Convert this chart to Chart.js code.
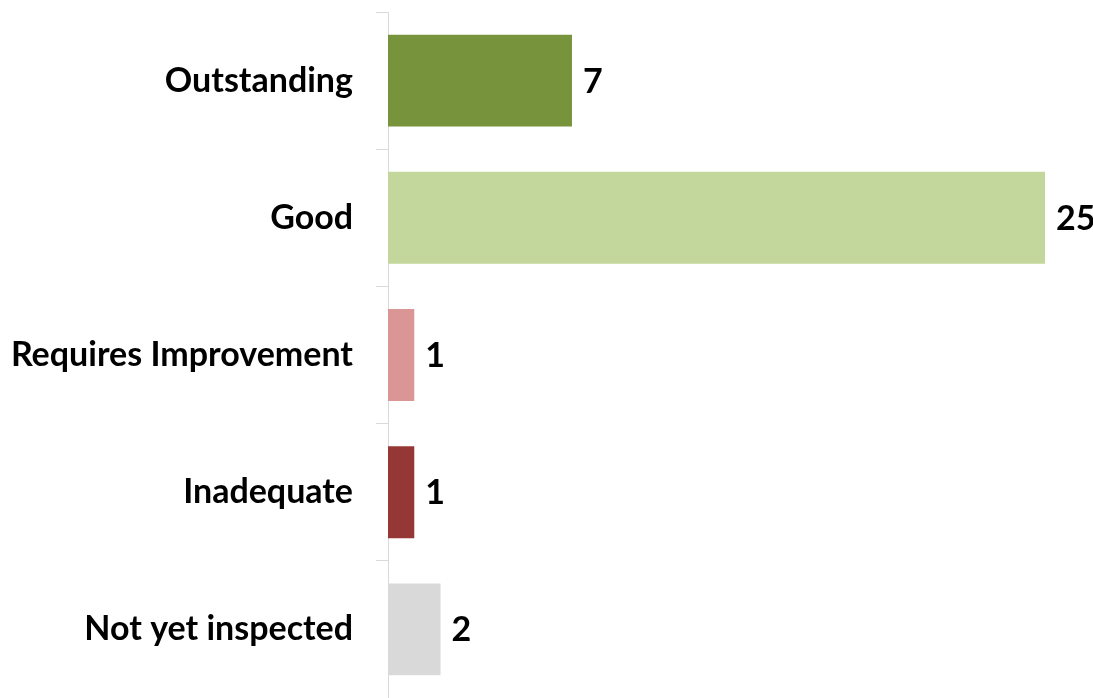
<!DOCTYPE html>
<html lang="en">
  <head>
    <meta charset="UTF-8" />
    <title>Inspection outcomes</title>
    <script src="https://cdn.jsdelivr.net/npm/chart.js"></script>
    <style>
      html, body { margin: 0; padding: 0; background: #fff; }
      .graphDiv { width: 1093px; height: 698px; }
    </style>
  </head>
  <body>
    <div class="graphDiv">
      <canvas id="myChart"></canvas>
    </div>
    <script>
  const categories = ["Outstanding", "Good", "Requires Improvement", "Inadequate", "Not yet inspected"];
  const counts = [7, 25, 1, 1, 2];
  const barColours = ["#77933C", "#C3D69B", "#D99694", "#953735", "#D9D9D9"];

  const labelFont = { family: "Lato, 'Open Sans', sans-serif", size: 34, weight: "bold" };

  // write each count just past the end of its bar
  const valueLabels = {
    id: "valueLabels",
    afterDatasetsDraw(chart) {
      const ctx = chart.ctx;
      const meta = chart.getDatasetMeta(0);
      ctx.save();
      ctx.font = `bold ${labelFont.size}px ${labelFont.family}`;
      ctx.fillStyle = "#000";
      ctx.textAlign = "left";
      ctx.textBaseline = "middle";
      meta.data.forEach((bar, i) => {
        ctx.fillText(String(counts[i]), bar.x + 11, bar.y + 1);
      });
      ctx.restore();
    },
  };

  const ctx = document.getElementById("myChart").getContext("2d");
  new Chart(ctx, {
    type: "bar",
    data: {
      labels: categories,
      datasets: [
        {
          data: counts,
          backgroundColor: barColours,
          borderWidth: 0,
          categoryPercentage: 1,
          barPercentage: 0.67,
        },
      ],
    },
    options: {
      indexAxis: "y",
      responsive: true,
      maintainAspectRatio: false,
      animation: false,
      layout: { padding: { top: 12, right: 48, bottom: 0, left: 12 } },
      plugins: {
        legend: { display: false },
        tooltip: { enabled: false },
      },
      scales: {
        x: {
          display: false,
          min: 0,
          max: 25,
        },
        y: {
          grid: {
            display: true,
            drawOnChartArea: false,
            drawTicks: true,
            tickLength: 12,
            offset: true,
            color: "#D9D9D9",
          },
          border: { display: true, color: "#D9D9D9", width: 1 },
          ticks: {
            color: "#000",
            font: labelFont,
            padding: 23,
          },
          // axis runs the full height, fixed label column width
          afterFit(scale) {
            scale.paddingTop = 0;
            scale.paddingBottom = 0;
            scale.width = 376;
          },
        },
      },
    },
    plugins: [valueLabels],
  });
    </script>
  </body>
</html>
